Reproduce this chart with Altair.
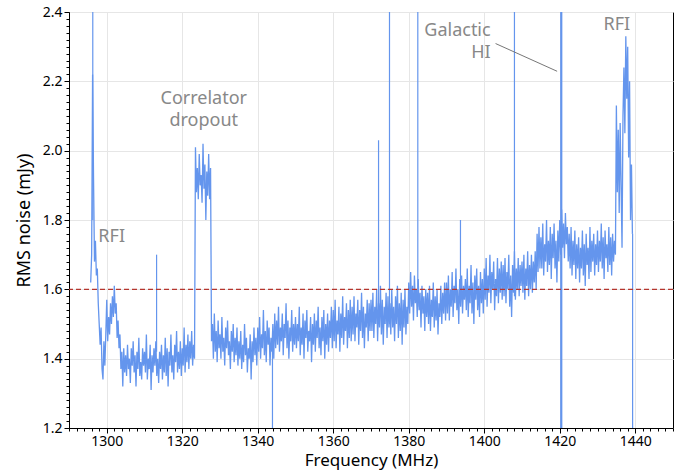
import altair as alt
import pandas as pd

# RMS noise (mJy) sampled every 0.25 MHz starting at 1295.75 MHz
rms = [
    # 1295.75 - 1299.75
    1.62, 1.70, 2.22, 1.92, 1.68, 1.74, 1.64, 1.66, 1.56, 1.50, 1.44, 1.49, 1.37, 1.34, 1.45, 1.38, 1.47,
    # 1300 - 1304.75
    1.57, 1.45, 1.52, 1.47, 1.56, 1.50, 1.58, 1.52, 1.61, 1.53, 1.56, 1.46, 1.51, 1.43, 1.47, 1.37, 1.42, 1.32, 1.43, 1.36,
    # 1305
    1.41, 1.35, 1.44, 1.37, 1.40, 1.33, 1.43, 1.38, 1.45, 1.36, 1.41, 1.32, 1.42, 1.37, 1.46, 1.35, 1.39, 1.34, 1.43, 1.38,
    # 1310
    1.42, 1.36, 1.47, 1.34, 1.40, 1.37, 1.44, 1.31, 1.41, 1.36, 1.43, 1.38, 1.45, 1.35, 1.40, 1.33, 1.42, 1.37, 1.44, 1.34,
    # 1315
    1.41, 1.36, 1.46, 1.35, 1.43, 1.32, 1.42, 1.38, 1.47, 1.36, 1.41, 1.34, 1.44, 1.39, 1.48, 1.36, 1.42, 1.37, 1.45, 1.35,
    # 1320
    1.43, 1.38, 1.49, 1.36, 1.44, 1.39, 1.47, 1.37, 1.45, 1.40, 1.48, 1.38, 1.44, 1.40, 2.01, 1.88, 1.95, 1.86, 1.99, 1.90,
    # 1325
    1.93, 1.85, 2.02, 1.89, 1.96, 1.80, 1.94, 1.87, 1.99, 1.86, 1.95, 1.45, 1.50, 1.40, 1.53, 1.42, 1.48, 1.39, 1.51, 1.43,
    # 1330
    1.47, 1.40, 1.52, 1.42, 1.46, 1.38, 1.49, 1.43, 1.51, 1.41, 1.45, 1.37, 1.48, 1.42, 1.50, 1.39, 1.46, 1.41, 1.49, 1.38,
    # 1335
    1.45, 1.40, 1.48, 1.37, 1.44, 1.39, 1.50, 1.41, 1.46, 1.36, 1.43, 1.40, 1.47, 1.34, 1.45, 1.39, 1.49, 1.41, 1.46, 1.38,
    # 1340
    1.49, 1.42, 1.52, 1.40, 1.47, 1.43, 1.54, 1.41, 1.48, 1.39, 1.51, 1.44, 1.49, 1.38, 1.46, 1.42, 1.50, 1.40, 1.53, 1.43,
    # 1345
    1.51, 1.44, 1.55, 1.42, 1.49, 1.45, 1.53, 1.41, 1.50, 1.46, 1.56, 1.43, 1.51, 1.40, 1.49, 1.45, 1.54, 1.42, 1.50, 1.44,
    # 1350
    1.52, 1.43, 1.50, 1.45, 1.55, 1.41, 1.49, 1.44, 1.53, 1.40, 1.51, 1.46, 1.54, 1.42, 1.48, 1.45, 1.52, 1.39, 1.50, 1.44,
    # 1355
    1.53, 1.42, 1.51, 1.46, 1.55, 1.43, 1.49, 1.41, 1.52, 1.45, 1.54, 1.40, 1.50, 1.44, 1.53, 1.42, 1.51, 1.46, 1.55, 1.43,
    # 1360
    1.54, 1.45, 1.57, 1.43, 1.51, 1.47, 1.55, 1.42, 1.53, 1.46, 1.58, 1.44, 1.52, 1.48, 1.56, 1.43, 1.54, 1.46, 1.57, 1.45,
    # 1365
    1.55, 1.47, 1.58, 1.45, 1.53, 1.49, 1.57, 1.44, 1.54, 1.48, 1.59, 1.46, 1.55, 1.43, 1.53, 1.49, 1.57, 1.45, 1.56, 1.48,
    # 1370
    1.57, 1.48, 1.59, 1.46, 1.55, 1.50, 1.60, 1.45, 1.56, 1.49, 1.61, 1.47, 1.57, 1.44, 1.55, 1.50, 1.59, 1.46, 1.58, 1.49,
    # 1375
    1.56, 1.47, 1.60, 1.49, 1.55, 1.45, 1.58, 1.50, 1.61, 1.46, 1.56, 1.48, 1.59, 1.44, 1.57, 1.49, 1.60, 1.47, 1.55, 1.50,
    # 1380
    1.62, 1.53, 1.65, 1.55, 1.61, 1.51, 1.64, 1.56, 1.60, 1.52, 1.63, 1.54, 1.59, 1.49, 1.61, 1.53, 1.58, 1.48, 1.60, 1.52,
    # 1385
    1.59, 1.50, 1.61, 1.48, 1.57, 1.52, 1.62, 1.49, 1.58, 1.51, 1.60, 1.47, 1.56, 1.52, 1.61, 1.50, 1.59, 1.53, 1.62, 1.51,
    # 1390
    1.62, 1.53, 1.64, 1.51, 1.60, 1.55, 1.65, 1.52, 1.61, 1.56, 1.66, 1.54, 1.60, 1.50, 1.63, 1.55, 1.64, 1.53, 1.61, 1.57,
    # 1395
    1.63, 1.54, 1.66, 1.52, 1.61, 1.56, 1.67, 1.53, 1.62, 1.50, 1.64, 1.57, 1.66, 1.54, 1.61, 1.52, 1.65, 1.56, 1.63, 1.53,
    # 1400
    1.66, 1.57, 1.69, 1.55, 1.64, 1.59, 1.70, 1.56, 1.65, 1.60, 1.68, 1.54, 1.63, 1.58, 1.69, 1.56, 1.66, 1.59, 1.68, 1.57,
    # 1405
    1.67, 1.58, 1.69, 1.56, 1.65, 1.60, 1.70, 1.55, 1.64, 1.52, 1.67, 1.59, 1.71, 1.57, 1.66, 1.60, 1.69, 1.58, 1.67, 1.61,
    # 1410
    1.68, 1.59, 1.70, 1.57, 1.66, 1.61, 1.71, 1.58, 1.67, 1.60, 1.70, 1.59, 1.68, 1.62, 1.71, 1.60, 1.76, 1.65, 1.78, 1.66,
    # 1415
    1.75, 1.66, 1.79, 1.64, 1.73, 1.68, 1.80, 1.65, 1.74, 1.67, 1.78, 1.63, 1.76, 1.69, 1.79, 1.66, 1.74, 1.62, 1.77, 1.68,
    # 1420
    1.80, 1.70, 1.83, 1.72, 1.79, 1.69, 1.82, 1.73, 1.78, 1.68, 1.76, 1.66, 1.78, 1.64, 1.74, 1.67, 1.77, 1.63, 1.73, 1.66,
    # 1425
    1.75, 1.62, 1.72, 1.66, 1.77, 1.64, 1.73, 1.61, 1.76, 1.67, 1.72, 1.63, 1.78, 1.65, 1.74, 1.68, 1.76, 1.64, 1.73, 1.67,
    # 1430
    1.77, 1.65, 1.74, 1.68, 1.79, 1.66, 1.75, 1.63, 1.77, 1.69, 1.73, 1.65, 1.78, 1.67, 1.75, 1.64, 1.76, 1.68, 1.74, 1.70,
    # 1435 - 1439.25
    2.13, 1.88, 2.06, 1.82, 2.08, 1.90, 1.72, 2.10, 2.24, 2.05, 2.33, 2.15, 2.30, 1.98, 2.20, 1.80, 1.96, 1.76,
]
start_mhz = 1295.75
step_mhz = 0.25
freq = [start_mhz + step_mhz * i for i in range(len(rms))]

# narrow single-channel spikes / dips
spike_freq = [1296.3, 1313.2, 1343.9, 1372.0, 1374.9, 1382.4, 1393.7, 1408.0, 1439.3]
spike_top = [2.45, 1.70, 1.45, 2.03, 2.45, 2.45, 1.80, 2.45, 1.76]
spike_base = [1.80, 1.42, 1.15, 1.52, 1.50, 1.55, 1.58, 1.58, 1.15]

hi_freq = [1420.4]
hi_top = [2.45]
hi_base = [1.15]

threshold = [1.6]

x_ticks = list(range(1290, 1451, 2))
y_ticks = [round(1.2 + 0.02 * i, 2) for i in range(61)]

center_text = ["RFI", "Correlator\ndropout", "RFI"]
center_f = [1301.3, 1325.7, 1435.1]
center_v = [1.751, 2.148, 2.362]

right_text = ["Galactic\nHI"]
right_f = [1401.7]
right_v = [2.346]

pointer_f1 = [1403.0]
pointer_v1 = [2.309]
pointer_f2 = [1419.3]
pointer_v2 = [2.229]

FONT = "Noto Sans"
BLUE = "#6495ED"
GREY = "#888888"

x_major = "datum.value % 20 === 0"
y_major = "abs(datum.value * 5 - round(datum.value * 5)) < 0.001"

xs = alt.Scale(domain=[1290, 1450], nice=False, zero=False)
ys = alt.Scale(domain=[1.2, 2.4], nice=False, zero=False)

main_df = pd.DataFrame({"f": freq, "v": rms})
spk_df = pd.DataFrame({"f": spike_freq, "top": spike_top, "base": spike_base})
hi_df = pd.DataFrame({"f": hi_freq, "top": hi_top, "base": hi_base})
thr_df = pd.DataFrame({"v": threshold})
ctext_df = pd.DataFrame({"t": center_text, "f": center_f, "v": center_v})
rtext_df = pd.DataFrame({"t": right_text, "f": right_f, "v": right_v})
ptr_df = pd.DataFrame({"f1": pointer_f1, "v1": pointer_v1, "f2": pointer_f2, "v2": pointer_v2})

x_axis = alt.Axis(
    values=x_ticks, tickCount=500, orient="bottom", labelOverlap=False,
    labelExpr=f"{x_major} ? format(datum.value, 'd') : ''",
    tickSize={"condition": {"test": x_major, "value": 5}, "value": 3},
    gridOpacity={"condition": {"test": x_major, "value": 1}, "value": 0},
    labelPadding=1, titlePadding=4, titleFontSize=17,
)
y_axis = alt.Axis(
    values=y_ticks, tickCount=500, orient="left", labelOverlap=False,
    labelExpr=f"{y_major} ? format(datum.value, '.1f') : ''",
    tickSize={"condition": {"test": y_major, "value": 5}, "value": 3},
    gridOpacity={"condition": {"test": y_major, "value": 1}, "value": 0},
    labelPadding=2, titlePadding=9,
)

line = alt.Chart(main_df).mark_line(color=BLUE, strokeWidth=1.3, clip=True).encode(
    x=alt.X("f:Q", scale=xs, title="Frequency (MHz)", axis=x_axis),
    y=alt.Y("v:Q", scale=ys, title="RMS noise (mJy)", axis=y_axis),
)

spikes = alt.Chart(spk_df).mark_rule(color=BLUE, strokeWidth=1.2, clip=True).encode(
    x=alt.X("f:Q", scale=xs), y=alt.Y("top:Q", scale=ys), y2="base:Q"
)
hi_line = alt.Chart(hi_df).mark_rule(color=BLUE, strokeWidth=2.2, clip=True).encode(
    x=alt.X("f:Q", scale=xs), y=alt.Y("top:Q", scale=ys), y2="base:Q"
)
thr = alt.Chart(thr_df).mark_rule(color="#b5362e", strokeDash=[5, 3], strokeWidth=1.3).encode(
    y=alt.Y("v:Q", scale=ys)
)
ctext = alt.Chart(ctext_df).mark_text(font=FONT, fontSize=18, color=GREY, align="center",
                                       baseline="middle", lineBreak="\n", lineHeight=22).encode(
    x=alt.X("f:Q", scale=xs), y=alt.Y("v:Q", scale=ys), text="t:N"
)
rtext = alt.Chart(rtext_df).mark_text(font=FONT, fontSize=18, color=GREY, align="right",
                                       baseline="middle", lineBreak="\n", lineHeight=22).encode(
    x=alt.X("f:Q", scale=xs), y=alt.Y("v:Q", scale=ys), text="t:N"
)
ptr = alt.Chart(ptr_df).mark_rule(color="#777777", strokeWidth=1).encode(
    x=alt.X("f1:Q", scale=xs), y=alt.Y("v1:Q", scale=ys), x2="f2:Q", y2="v2:Q"
)

chart = alt.layer(line, spikes, hi_line, thr, ptr, ctext, rtext).properties(
    width=604, height=416,
    autosize=alt.AutoSizeParams(type="none"),
    padding={"left": 69, "top": 12, "right": 10, "bottom": 42},
    background="white",
).configure_view(stroke="black", strokeWidth=1).configure_axis(
    domainColor="black", tickColor="black", labelColor="black", titleColor="black",
    gridColor="#e6e6e6", labelFont=FONT, titleFont=FONT, labelFontSize=14,
    titleFontSize=18, titleFontWeight="normal",
)

chart.save("out.html", embed_options={"renderer": "svg", "actions": False})
